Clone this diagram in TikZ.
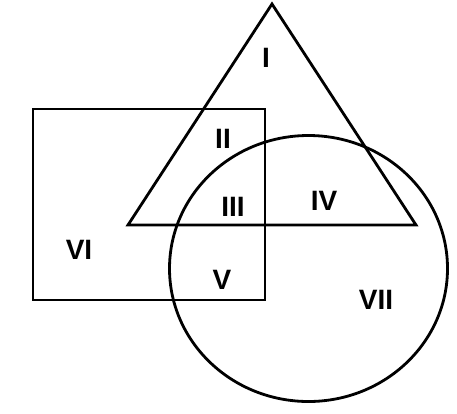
\documentclass[tikz,border=0pt]{standalone}
\usepackage{fontspec}
\setmainfont{Liberation Sans}
\begin{document}
\begin{tikzpicture}[x=1pt,y=-1pt,
  shape line/.style={draw=black,line width=2.8pt,line join=miter},
  region/.style={font=\fontsize{28}{28}\selectfont\bfseries,inner sep=0pt,anchor=center}]
\useasboundingbox (0,0) rectangle (457,413);
% triangle
\coordinate (tA) at (272,4);
\coordinate (tB) at (128,225);
\coordinate (tC) at (416,225);
\draw[shape line] (tA) -- (tB) -- (tC) -- cycle;
% rectangle
\coordinate (r1) at (33,109);
\coordinate (r2) at (265,300);
\draw[shape line] (r1) rectangle (r2);
% circle
\coordinate (cc) at (308.5,268.5);
\draw[shape line] (cc) ellipse [x radius=139, y radius=133];
% labels
\node[region] (l1) at (266,58) {I};
\node[region] (l2) at (223,139) {II};
\node[region] (l3) at (233,207) {III};
\node[region] (l4) at (324,201) {IV};
\node[region] (l5) at (222,280) {V};
\node[region] (l6) at (79,250) {VI};
\node[region] (l7) at (376,300) {VII};
\end{tikzpicture}
\end{document}
